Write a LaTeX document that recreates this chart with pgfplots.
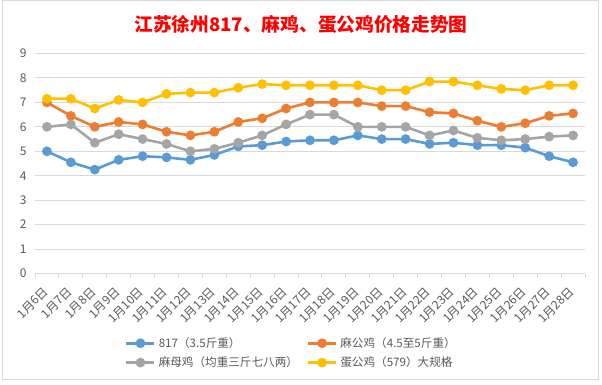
\documentclass[border=0pt]{standalone}
\usepackage{pgfplots}
\pgfplotsset{compat=1.18}
\usepackage{fontspec}
\setmainfont{Noto Sans CJK SC}
\definecolor{cBlue}{HTML}{5B9BD5}
\definecolor{cOrange}{HTML}{ED7D31}
\definecolor{cGray}{HTML}{A5A5A5}
\definecolor{cYellow}{HTML}{FFC000}
\definecolor{gridc}{HTML}{D9D9D9}
\definecolor{txt}{HTML}{595959}
\newcommand{\lgd}[1]{\makebox[148pt][l]{#1}}
\begin{document}
\begin{tikzpicture}[x=1pt,y=1pt]
\fill[white] (0,0) rectangle (602,-384);
\draw[gridc, line width=1pt] (2.5,-0.5) rectangle (598.5,-379.5);
\begin{axis}[
  at={(35pt,-273.5pt)}, anchor=south west,
  scale only axis, width=550pt, height=220pt,
  xmin=-0.5, xmax=22.5, ymin=0, ymax=9,
  ytick={0,...,9},
  xtick={0,...,22},
  xticklabels={1月6日,1月7日,1月8日,1月9日,1月10日,1月11日,1月12日,1月13日,1月14日,1月15日,1月16日,1月17日,1月18日,1月19日,1月20日,1月21日,1月22日,1月23日,1月24日,1月25日,1月26日,1月27日,1月28日},
  minor xtick={-0.5,0.5,...,22.5},
  major tick length=0pt,
  minor tick length=4pt,
  tick align=outside,
  minor tick style={gridc, line width=1pt},
  axis x line*=bottom,
  axis y line*=left,
  x axis line style={gridc, line width=1pt, -},
  y axis line style={draw=none},
  ymajorgrids,
  major grid style={gridc, line width=1pt},
  /pgf/number format/assume math mode=true,
  tick label style={font=\fontsize{12}{14}\selectfont, text=txt},
  yticklabel style={xshift=-5pt},
  xticklabel style={anchor=east, inner sep=0pt, xshift=-1pt, yshift=-16pt, rotate=45},
  every axis plot/.append style={line width=2.6pt, mark=*, mark size=3.5pt},
  legend columns=2,
  legend cell align=left,
  legend image code/.code={\draw[mark repeat=2,mark phase=2,#1] plot coordinates {(0pt,0pt) (14pt,0pt) (28pt,0pt)};
    \path (0pt,0pt) (31pt,0pt);},
  legend style={at={(axis description cs:0.1636,-0.29)}, anchor=north west, draw=none, fill=none,
    font=\fontsize{11.6}{13}\selectfont, text=txt, inner sep=0pt,
    nodes={inner sep=0pt},
    column sep=0pt,
    /tikz/every odd column/.style={column sep=0pt},
    /tikz/every even column/.style={column sep=0pt},
    cells={anchor=west},
    row sep=8pt},
]
\addplot[cBlue, mark options={fill=cBlue, draw=cBlue}] coordinates {
(0,5.0) (1,4.55) (2,4.25) (3,4.65) (4,4.8) (5,4.75) (6,4.65) (7,4.85) (8,5.2) (9,5.25) (10,5.4) (11,5.45)
(12,5.45) (13,5.65) (14,5.5) (15,5.5) (16,5.3) (17,5.35) (18,5.25) (19,5.25) (20,5.15) (21,4.8) (22,4.55)};
\addlegendentry{\lgd{817（3.5斤重）}}
\addplot[cOrange, mark options={fill=cOrange, draw=cOrange}] coordinates {
(0,7.0) (1,6.45) (2,6.0) (3,6.2) (4,6.1) (5,5.8) (6,5.65) (7,5.8) (8,6.2) (9,6.35) (10,6.75) (11,7.0)
(12,7.0) (13,7.0) (14,6.85) (15,6.85) (16,6.6) (17,6.55) (18,6.25) (19,6.0) (20,6.15) (21,6.45) (22,6.55)};
\addlegendentry{\lgd{麻公鸡（4.5至5斤重）}}
\addplot[cGray, mark options={fill=cGray, draw=cGray}] coordinates {
(0,6.0) (1,6.1) (2,5.35) (3,5.7) (4,5.5) (5,5.3) (6,5.0) (7,5.1) (8,5.35) (9,5.65) (10,6.1) (11,6.5)
(12,6.5) (13,6.0) (14,6.0) (15,6.0) (16,5.65) (17,5.85) (18,5.55) (19,5.45) (20,5.5) (21,5.6) (22,5.65)};
\addlegendentry{\lgd{麻母鸡（均重三斤七八两）}}
\addplot[cYellow, mark options={fill=cYellow, draw=cYellow}] coordinates {
(0,7.15) (1,7.15) (2,6.75) (3,7.1) (4,7.0) (5,7.35) (6,7.4) (7,7.4) (8,7.6) (9,7.75) (10,7.7) (11,7.7)
(12,7.7) (13,7.7) (14,7.5) (15,7.5) (16,7.85) (17,7.85) (18,7.7) (19,7.55) (20,7.5) (21,7.7) (22,7.7)};
\addlegendentry{\lgd{蛋公鸡（579）大规格}}
\end{axis}
\node[font=\fontsize{18.7}{21}\selectfont\bfseries, text=red] at (301,-24) {江苏徐州817、麻鸡、蛋公鸡价格走势图};
\end{tikzpicture}
\end{document}
